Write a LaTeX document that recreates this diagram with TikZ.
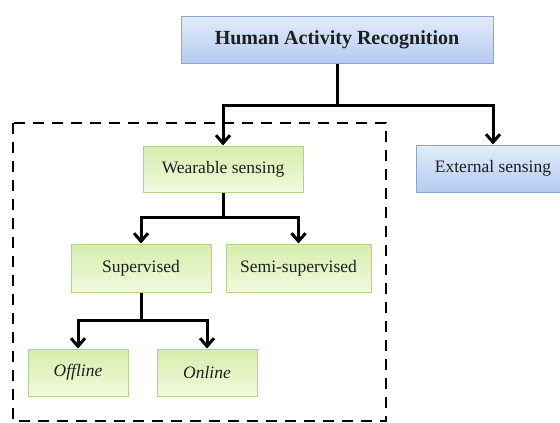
\documentclass[tikz,border=0pt]{standalone}
\usepackage{fontspec}
\setmainfont{Liberation Serif}
\usetikzlibrary{arrows.meta}
\definecolor{bluetop}{HTML}{E3ECFA}
\definecolor{bluebot}{HTML}{B4CBF0}
\definecolor{blueedge}{HTML}{86A6D6}
\definecolor{greentop}{HTML}{D6EEAC}
\definecolor{greenbot}{HTML}{F1F9DE}
\definecolor{greenedge}{HTML}{B2D38A}
\definecolor{txt}{HTML}{1E1E1E}
\tikzset{
  bluebox/.style={draw=blueedge, line width=1pt, top color=bluetop, bottom color=bluebot, rectangle, inner sep=0pt, text=txt, font=\fontsize{17.5}{19}\selectfont},
  greenbox/.style={draw=greenedge, line width=1pt, top color=greentop, bottom color=greenbot, rectangle, inner sep=0pt, text=txt, font=\fontsize{17.5}{19}\selectfont},
  conn/.style={line width=3pt, black},
  arr/.style={conn, -{Straight Barb[length=8pt,width=14pt,line width=3pt]}},
  dashbox/.style={line width=2.8pt, dash pattern=on 11pt off 8pt}
}
\begin{document}
\begin{tikzpicture}[x=1pt,y=-1pt]
\clip (0,0) rectangle (560,423);
\fill[white] (0,0) rectangle (560,423);
\draw[dashbox] (13,123) rectangle (386,421);
\node[bluebox, minimum width=312pt, minimum height=47pt, font=\fontsize{20}{22}\selectfont\bfseries] (har) at (337,39.5) {Human Activity Recognition};
\node[greenbox, minimum width=160pt, minimum height=46pt] (wear) at (223,169) {Wearable sensing};
\node[bluebox, minimum width=154pt, minimum height=47pt] (ext) at (493,168.5) {External sensing};
\node[greenbox, minimum width=140pt, minimum height=48pt] (sup) at (141,268) {Supervised};
\node[greenbox, minimum width=145pt, minimum height=48pt] (semi) at (298.5,268) {Semi-supervised};
\node[greenbox, minimum width=100pt, minimum height=47pt] (off) at (78,372.5) {\itshape Offline};
\node[greenbox, minimum width=100pt, minimum height=47pt] (on) at (207,372.5) {\itshape Online};
\coordinate (j1) at (337,105);
\coordinate (j2) at (223,217);
\coordinate (j3) at (141,320);
\draw[conn] (har.south) -- (j1);
\draw[arr] (j1) -| (wear.north);
\draw[arr] (j1) -| (ext.north);
\draw[conn] (wear.south) -- (j2);
\draw[arr] (j2) -| (sup.north);
\draw[arr] (j2) -| (semi.north);
\draw[conn] (sup.south) -- (j3);
\draw[arr] (j3) -| (off.north);
\draw[arr] (j3) -| (on.north);
\end{tikzpicture}
\end{document}
